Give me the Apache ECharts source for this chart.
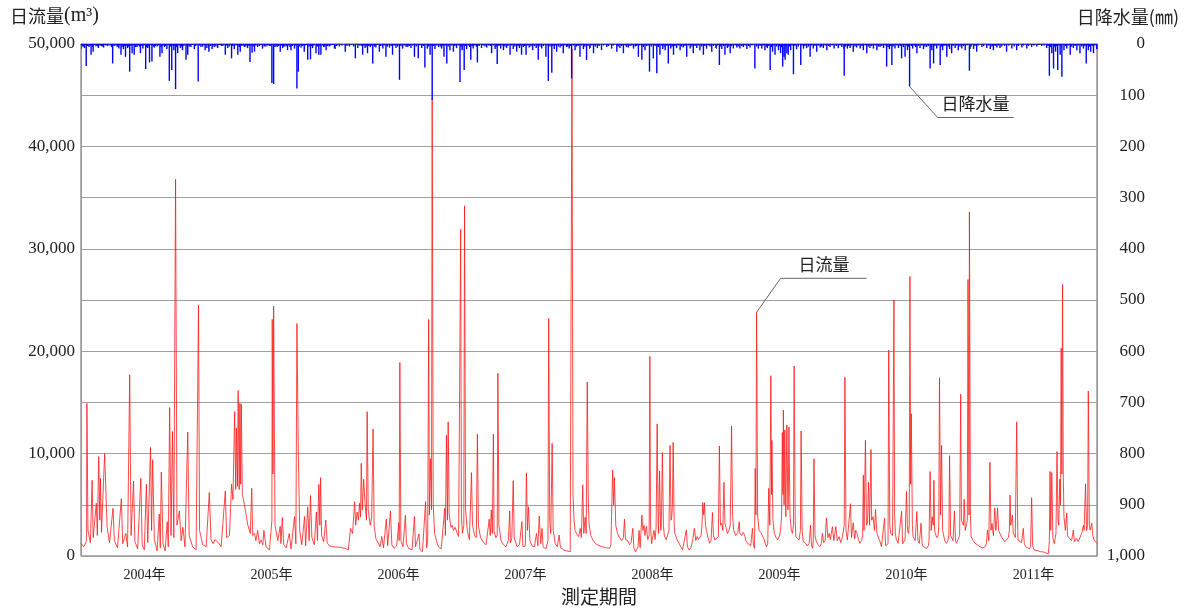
<!DOCTYPE html>
<html>
<head>
<meta charset="utf-8">
<title>日流量・日降水量</title>
<script src="https://cdn.jsdelivr.net/npm/echarts@6/dist/echarts.min.js"></script>
<style>
  html, body { margin: 0; padding: 0; background: #fff; }
  #main { width: 1189px; height: 614px; }
</style>
</head>
<body>
<div id="main"></div>
<script>
// x = days since 2004-01-01 (2922 days up to 2012-01-01)
var YEARS = ['2004年', '2005年', '2006年', '2007年', '2008年', '2009年', '2010年', '2011年'];
var DAY_MAX = 2922;

// 日流量 (m3) [day, value]
var FLOW_0405 = [[0,1240],[8,900],[16,1500],[17,14900],[20,2500],[27,1300],[32,7400],[35,1800],[44,5150],[47,2000],[51,9700],[54,3500],[56,7600],[59,2300],[68,10000],[75,2900],[82,1300],[92,4650],[96,1500],[105,800],[116,5600],[120,1200],[129,2200],[134,900],[140,17700],[144,2000],[151,7300],[155,1400],[163,700],[172,7600],[176,1100],[182,600],[188,7000],[192,1300],[200,10600],[203,2500],[206,9400],[211,1600],[219,500],[225,4100],[228,800],[231,8200],[236,1200],[242,500],[248,3350],[251,900],[255,14500],[259,2000],[263,12150],[267,1800],[272,36800],[276,3000],[283,4400],[288,1500],[293,2800],[299,900],[307,12100],[311,2000],[321,900],[331,600],[338,24500],[341,2500],[350,1100],[360,900],[369,6200],[374,1600],[380,1200],[385,1600],[395,1300],[403,900],[415,6350],[419,1800],[427,2000],[433,7000],[437,5500],[442,14100],[445,6500],[447,12500],[450,6800],[452,16150],[455,6500],[457,14900],[459,7000],[461,14850],[464,6000],[470,5000],[480,3000],[487,2200],[491,6600],[494,2000],[499,2200],[503,1500],[508,2500],[513,1200],[518,1560],[523,1100],[526,2500],[532,900],[542,600],[549,3500],[550,23100],[552,8000],[554,24400],[558,3000],[566,1500],[573,2900],[575,1200],[579,3750],[583,1100],[590,800],[599,2200],[604,700],[614,3850],[618,1200],[621,22700],[625,10200],[629,2500],[635,1100],[643,3850],[646,1000],[652,4800],[656,1500],[660,5900],[664,1800],[671,1100],[677,4300],[680,1500],[684,7000],[687,3000],[689,7650],[692,2000],[698,1400],[704,3500],[708,1300],[714,1000],[724,900],[729,900]];
var FLOW_0607 = [[731,900],[745,850],[760,750],[769,600],[775,2700],[781,2200],[787,5300],[790,3000],[794,4300],[798,3500],[801,5150],[804,3800],[806,9050],[809,4500],[813,7500],[817,5100],[821,3500],[823,14100],[826,4500],[832,3000],[836,3800],[840,12400],[843,3000],[848,1700],[856,1200],[860,900],[865,1900],[870,800],[878,3600],[882,1000],[890,4400],[894,1100],[900,750],[908,1000],[914,3250],[915,1500],[917,18900],[920,1500],[926,900],[933,4000],[936,1200],[942,750],[952,600],[959,3850],[962,900],[972,2150],[975,600],[982,420],[991,5300],[994,800],[997,1500],[1000,23100],[1002,4000],[1005,9500],[1008,4500],[1010,44700],[1013,5000],[1017,2200],[1023,1400],[1028,900],[1036,700],[1046,4650],[1048,2000],[1051,11800],[1054,3500],[1056,13100],[1059,4000],[1064,2800],[1068,3000],[1071,2500],[1076,2800],[1081,2300],[1086,1900],[1090,2000],[1092,31900],[1094,4000],[1097,2200],[1101,3000],[1103,34200],[1106,4500],[1111,2500],[1117,1600],[1123,8150],[1126,3000],[1132,2000],[1137,1800],[1140,11900],[1143,3000],[1149,1800],[1158,1300],[1165,1100],[1174,3600],[1177,2000],[1180,4500],[1183,2200],[1186,11900],[1188,2500],[1193,1800],[1197,2000],[1199,17850],[1202,3000],[1208,1500],[1215,1100],[1222,900],[1229,1500],[1233,4400],[1235,1300],[1239,1700],[1243,7350],[1246,1800],[1254,900],[1261,1100],[1268,3350],[1271,900],[1278,1000],[1281,8100],[1284,2500],[1287,4800],[1291,1500],[1297,1000],[1304,900],[1310,2200],[1314,1000],[1318,3900],[1322,1200],[1326,2700],[1329,900],[1337,700],[1343,1500],[1345,23200],[1348,3500],[1351,2200],[1355,11000],[1358,2500],[1364,1200],[1370,900],[1375,2050],[1379,800],[1388,600],[1397,500],[1407,420],[1412,49500],[1415,6000],[1418,3500],[1421,2500],[1425,2200],[1431,1900],[1436,2700],[1439,1800],[1443,6950],[1446,2200],[1450,3800],[1453,2200],[1456,17000],[1459,5500]];
var FLOW_0809 = [[1461,3200],[1466,2000],[1473,1500],[1480,1200],[1490,1000],[1499,900],[1511,800],[1520,750],[1524,1100],[1529,8400],[1532,5000],[1534,7650],[1538,3000],[1543,2200],[1547,1900],[1555,1500],[1560,1800],[1563,3600],[1566,1600],[1572,1500],[1578,1100],[1582,1300],[1587,2700],[1590,800],[1595,420],[1602,900],[1605,2500],[1608,800],[1613,4000],[1616,2500],[1619,3000],[1622,2000],[1626,2900],[1630,1600],[1634,2000],[1636,19500],[1638,3000],[1641,1200],[1645,2000],[1648,2500],[1651,1600],[1654,2800],[1657,12900],[1660,3000],[1661,2200],[1664,8300],[1667,2500],[1669,2800],[1672,10100],[1675,3000],[1678,1900],[1683,1600],[1687,1700],[1691,2500],[1694,10800],[1697,3500],[1699,3800],[1701,5000],[1703,11100],[1706,3000],[1708,2200],[1714,1600],[1720,1240],[1725,900],[1730,590],[1735,700],[1741,2550],[1744,900],[1749,590],[1754,800],[1760,1700],[1764,2700],[1768,1500],[1772,1900],[1776,1600],[1779,1700],[1783,2000],[1786,3000],[1788,5200],[1791,4000],[1793,5200],[1796,3000],[1799,2500],[1803,1800],[1808,1240],[1812,1500],[1816,4250],[1819,2000],[1823,1560],[1828,1400],[1833,1900],[1836,10750],[1839,3000],[1843,3200],[1846,2500],[1849,7200],[1852,3200],[1855,2800],[1859,2200],[1864,2540],[1867,3000],[1869,7400],[1871,12700],[1874,4000],[1877,2540],[1883,2000],[1889,2300],[1893,3350],[1895,2200],[1900,2000],[1904,2300],[1908,2100],[1912,1500],[1917,1240],[1921,1300],[1926,1000],[1931,2700],[1934,1000],[1937,750],[1939,8550],[1941,4000],[1943,23800],[1946,4000],[1950,2500],[1955,2300],[1960,2200],[1965,1600],[1971,900],[1975,1200],[1978,6600],[1981,3000],[1984,17600],[1986,6000],[1987,11300],[1990,3500],[1994,2210],[1999,1800],[2004,1560],[2009,2000],[2012,2540],[2015,4000],[2017,12050],[2019,6000],[2020,14250],[2022,5000],[2024,12300],[2027,3840],[2030,12800],[2033,4500],[2034,5000],[2036,12600],[2039,4000],[2043,2500],[2046,2210],[2049,3000],[2051,18550],[2054,3500],[2056,1890],[2060,1700],[2065,1560],[2069,2500],[2071,12200],[2074,2500],[2077,1400],[2081,1300],[2084,1240],[2089,1000],[2094,1200],[2098,3000],[2101,1000],[2104,750],[2106,1500],[2108,9500],[2111,2000],[2115,1400],[2120,1100],[2125,900],[2129,1200],[2132,2210],[2136,1300],[2140,1500],[2144,3700],[2148,1800],[2152,2210],[2155,1600],[2161,2870],[2165,1500],[2171,2870],[2175,1500],[2180,1890],[2185,1300],[2190,1890]];
var FLOW_1011 = [[2192,1700],[2195,3000],[2197,17450],[2200,2500],[2204,1560],[2208,1500],[2213,5100],[2216,1800],[2221,3250],[2225,1700],[2228,2500],[2232,2210],[2236,1600],[2240,1240],[2245,1500],[2248,2000],[2250,7900],[2252,2500],[2256,11300],[2259,3000],[2262,3200],[2265,7200],[2268,3000],[2272,10400],[2274,3500],[2278,3840],[2282,2500],[2285,4550],[2289,2200],[2293,2210],[2297,1500],[2302,910],[2307,1000],[2311,3700],[2314,1000],[2317,910],[2321,1200],[2323,20100],[2326,3000],[2329,2210],[2334,2000],[2338,25000],[2340,4000],[2342,2210],[2345,1600],[2350,1240],[2355,1300],[2360,4350],[2363,1200],[2367,1100],[2370,1600],[2374,6300],[2377,2500],[2380,2210],[2382,3000],[2384,27300],[2386,7000],[2388,13900],[2391,3000],[2393,1890],[2399,1500],[2404,4350],[2407,1500],[2411,1240],[2416,3200],[2419,1200],[2422,910],[2427,800],[2432,750],[2437,1000],[2439,1500],[2442,8250],[2445,2500],[2448,3840],[2451,3000],[2453,7400],[2455,2500],[2457,2210],[2461,1800],[2465,2000],[2467,3000],[2469,17400],[2472,4000],[2475,10800],[2478,2500],[2480,2210],[2484,1500],[2489,1240],[2493,1500],[2496,2000],[2498,9800],[2501,2000],[2504,1890],[2508,1500],[2512,4400],[2515,1500],[2518,1240],[2523,1300],[2527,2000],[2530,15800],[2532,3500],[2535,3500],[2538,3000],[2540,5550],[2543,2500],[2547,3190],[2549,3500],[2551,27000],[2554,4000],[2555,33600],[2558,4000],[2560,1890],[2566,1500],[2571,1240],[2578,1100],[2585,910],[2593,800],[2600,910],[2604,1200],[2607,2540],[2611,1500],[2614,9150],[2617,2500],[2620,3190],[2624,2000],[2628,4700],[2631,2500],[2633,3000],[2636,4700],[2639,2500],[2643,2540],[2648,1800],[2652,1720],[2657,1400],[2662,1400],[2667,1800],[2670,2500],[2672,5950],[2674,3000],[2677,3190],[2679,4000],[2681,2300],[2683,2210],[2687,1800],[2691,13100],[2694,2500],[2695,1560],[2700,1400],[2705,1300],[2710,2700],[2713,1200],[2717,910],[2721,800],[2727,700],[2731,900],[2734,5700],[2737,1000],[2741,600],[2746,700],[2753,500],[2760,420],[2767,400],[2775,300],[2782,200],[2785,1500],[2787,8250],[2789,2500],[2792,8150],[2795,1800],[2799,1200],[2804,2210],[2807,10200],[2810,3500],[2812,3000],[2815,7500],[2817,5000],[2819,20300],[2821,8000],[2823,26500],[2825,8000],[2827,3840],[2831,2500],[2835,4200],[2837,2000],[2841,1800],[2844,1890],[2849,1500],[2854,2540],[2857,1400],[2860,1300],[2863,1720],[2868,1400],[2873,1560],[2878,2200],[2883,3000],[2885,2500],[2889,7050],[2892,2500],[2895,3000],[2897,16100],[2900,3000],[2902,2540],[2905,2500],[2907,3200],[2910,2000],[2913,1600],[2917,1400],[2922,1240]];

// 日降水量 (mm) [day, value]
var RAIN_0406 = [[5,5],[10,8],[15,43],[23,6],[29,21],[35,15],[43,5],[50,8],[58,4],[65,7],[72,3],[91,38],[104,6],[109,9],[115,21],[122,10],[128,25],[134,8],[140,54],[147,18],[153,21],[161,6],[171,18],[178,9],[186,49],[192,8],[197,36],[204,34],[211,7],[219,5],[227,25],[233,18],[240,6],[247,10],[254,72],[261,51],[267,12],[272,88],[278,18],[286,8],[292,12],[302,31],[307,21],[316,6],[326,10],[337,73],[345,6],[357,12],[362,8],[368,15],[377,10],[383,6],[393,8],[403,4],[415,21],[422,8],[433,28],[441,10],[451,21],[458,15],[470,6],[479,8],[486,35],[492,17],[499,15],[508,6],[522,9],[532,5],[542,4],[549,76],[554,78],[564,6],[573,15],[580,8],[587,5],[594,12],[604,12],[614,9],[621,87],[625,54],[633,7],[642,15],[652,31],[660,30],[666,8],[676,18],[684,21],[690,21],[698,6],[705,12],[714,5],[729,9],[743,5],[760,15],[772,5],[789,28],[796,8],[810,21],[817,8],[824,18],[832,6],[839,38],[848,7],[858,15],[868,9],[877,25],[887,7],[896,21],[906,8],[916,70],[925,9],[940,6],[949,8],[959,25],[970,28]];
var RAIN_0608 = [[980,8],[989,46],[996,9],[1004,21],[1010,109],[1018,10],[1028,6],[1037,9],[1044,25],[1052,38],[1061,12],[1071,15],[1080,8],[1090,74],[1096,12],[1102,51],[1109,10],[1121,31],[1128,9],[1140,36],[1152,8],[1167,7],[1181,18],[1191,10],[1197,39],[1207,9],[1215,12],[1224,8],[1234,21],[1243,10],[1253,15],[1261,8],[1267,21],[1280,21],[1289,7],[1299,12],[1309,8],[1315,31],[1325,9],[1337,25],[1344,72],[1354,56],[1361,10],[1368,15],[1378,7],[1387,18],[1397,6],[1404,9],[1411,67],[1421,12],[1435,25],[1445,10],[1454,31],[1464,8],[1474,18],[1485,8],[1497,12],[1512,6],[1526,9],[1541,15],[1550,8],[1560,18],[1574,7],[1589,9],[1603,25],[1613,31],[1622,12],[1635,54],[1646,28],[1656,57],[1665,21],[1673,10],[1680,12],[1689,38],[1696,9],[1704,21],[1713,8],[1723,12],[1732,7],[1742,25],[1752,9],[1761,18],[1771,8],[1780,12],[1790,21],[1799,9],[1814,15],[1826,8],[1836,41],[1843,10],[1852,21],[1859,8],[1867,18],[1876,9],[1886,7],[1895,9],[1905,6],[1915,10],[1924,7],[1938,48],[1948,9]];
var RAIN_0911 = [[1958,9],[1967,12],[1974,8],[1982,51],[1989,15],[1996,21],[2006,12],[2012,18],[2018,44],[2022,25],[2025,31],[2030,18],[2034,21],[2041,12],[2049,59],[2058,10],[2070,41],[2078,9],[2087,8],[2097,25],[2106,9],[2116,15],[2126,7],[2135,8],[2145,12],[2154,6],[2166,9],[2178,8],[2188,6],[2195,62],[2204,9],[2212,8],[2221,15],[2231,7],[2241,9],[2250,12],[2260,18],[2269,8],[2279,9],[2289,12],[2298,6],[2308,8],[2317,44],[2325,10],[2332,41],[2341,9],[2351,8],[2360,28],[2370,25],[2377,12],[2383,83],[2392,9],[2404,18],[2413,8],[2423,10],[2432,6],[2442,48],[2447,12],[2452,38],[2461,9],[2471,41],[2478,12],[2490,25],[2498,10],[2504,18],[2514,8],[2523,12],[2533,9],[2543,12],[2555,52],[2567,10],[2576,15],[2591,6],[2605,8],[2615,10],[2624,12],[2634,7],[2643,8],[2662,15],[2677,9],[2691,12],[2706,7],[2720,9],[2734,6],[2749,5],[2763,4],[2777,8],[2785,62],[2792,18],[2797,48],[2803,15],[2809,51],[2816,21],[2821,64],[2827,12],[2835,9],[2845,21],[2854,8],[2864,12],[2873,18],[2883,9],[2891,38],[2897,12],[2904,15],[2912,18],[2921,10]];
// light rain days (the thin band along the top)
var RAIN_LIGHT = [[2,3],[7,5],[12,2],[19,4],[26,3],[33,6],[39,2],[47,4],[54,3],[61,5],[69,2],[77,4],[84,3],[88,6],[95,4],[99,3],[107,5],[112,2],[118,6],[125,4],[131,3],[137,5],[144,4],[150,2],[157,6],[164,3],[168,5],[175,4],[181,3],[189,6],[195,4],[201,2],[208,5],[214,4],[222,3],[230,6],[236,3],[243,4],[250,2],[258,5],[264,3],[270,4],[275,6],[282,3],[289,5],[296,4],[305,3],[311,5],[320,2],[330,4],[341,3],[350,5],[355,2],
  [372,4],[380,3],[388,5],[398,2],[408,4],[418,3],[427,5],[437,4],[446,3],[455,6],[463,4],[467,3],[474,5],[483,4],[489,3],[495,5],[503,3],[513,4],[518,2],[527,5],[537,3],[546,4],[558,6],[561,3],[568,4],[577,3],[583,5],[591,4],[598,3],[601,6],[608,4],[617,3],[628,5],[637,4],[645,3],[648,2],[656,5],[663,4],[670,3],[680,5],[687,4],[694,3],[701,5],[709,4],[718,3],[724,2],[735,4],[750,3],[765,4],[778,2],[784,5],[801,3],[806,4],[814,3],[820,5],[828,4],[835,3],[844,5],[852,2],[862,4],[872,3],[881,5],[892,4],[901,3],[911,5],[920,4],[930,3],[935,6],[944,4],[954,3],[964,5],[975,3],
  [985,4],[1000,5],[1008,3],[1014,4],[1023,3],[1033,5],[1041,4],[1048,3],[1056,5],[1066,3],[1075,4],[1085,3],[1093,5],[1099,3],[1106,4],[1114,3],[1118,6],[1125,4],[1133,3],[1137,5],[1145,4],[1157,3],[1162,5],[1172,3],[1177,4],[1186,3],[1194,5],[1202,4],[1211,3],[1219,5],[1228,4],[1238,3],[1248,5],[1257,4],[1264,3],[1272,6],[1276,4],[1284,3],[1294,5],[1304,4],[1312,3],[1320,5],[1330,4],[1341,3],[1349,5],[1357,4],[1365,3],[1373,5],[1383,4],[1392,3],[1400,5],[1408,4],[1416,3],[1425,5],[1430,4],[1440,3],[1449,5],[1458,4],[1469,3],[1479,5],[1490,4],[1503,3],[1517,4],[1531,3],[1545,5],[1555,4],[1565,3],[1569,6],[1579,4],[1584,3],[1594,5],[1598,4],[1607,3],[1617,6],[1627,4],[1631,3],[1640,5],[1651,4],[1660,6],[1669,3],[1677,5],[1685,4],[1692,3],[1700,5],[1708,4],[1718,3],[1727,5],[1737,4],[1747,3],[1757,5],[1766,4],[1775,3],[1785,5],[1794,4],[1804,3],[1809,5],[1819,4],[1831,3],[1840,5],[1848,4],[1855,3],[1863,5],[1871,4],[1881,3],[1890,5],[1900,4],[1910,3],[1920,4],[1930,3],[1943,5],
  [1953,4],[1962,3],[1971,5],[1978,4],[1986,6],[1993,3],[2001,5],[2009,4],[2015,6],[2027,4],[2037,5],[2045,3],[2053,4],[2063,5],[2074,3],[2082,4],[2092,5],[2101,3],[2111,4],[2121,3],[2130,5],[2140,3],[2150,4],[2160,3],[2172,4],[2183,3],[2199,5],[2208,4],[2216,3],[2226,5],[2236,3],[2246,4],[2255,3],[2264,5],[2274,4],[2284,3],[2293,5],[2303,4],[2313,3],[2321,6],[2329,4],[2336,5],[2346,3],[2356,4],[2365,6],[2374,3],[2380,5],[2388,4],[2397,3],[2400,6],[2408,4],[2418,3],[2427,5],[2437,4],[2445,6],[2456,4],[2466,3],[2475,5],[2482,4],[2486,3],[2494,5],[2508,4],[2518,3],[2528,5],[2538,4],[2548,3],[2560,5],[2571,4],[2581,3],[2596,4],[2610,3],[2620,5],[2629,4],[2638,3],[2648,5],[2656,4],[2668,3],[2684,5],[2696,4],[2711,3],[2725,4],[2740,3],[2756,2],[2770,3],[2781,4],[2788,6],[2800,5],[2806,4],[2813,3],[2819,5],[2831,4],[2840,3],[2849,5],[2859,4],[2868,3],[2878,5],[2887,4],[2894,3],[2901,5],[2908,4],[2916,3]];

var FONT = "'Liberation Serif', 'Noto Sans CJK JP', serif";
var FONT_JP = "'Noto Sans CJK JP', 'Liberation Serif', sans-serif";

var flowData = FLOW_0405.concat(FLOW_0607, FLOW_0809, FLOW_1011);
var rainData = RAIN_0406.concat(RAIN_0608, RAIN_0911, RAIN_LIGHT);

var chart = echarts.init(document.getElementById('main'), null, {renderer: 'canvas'});

var option = {
    animation: false,
    backgroundColor: '#fff',
    grid: {
        left: 81,
        right: 92,
        top: 44,
        bottom: 58,
        show: true,
        borderColor: '#666',
        borderWidth: 1
    },
    xAxis: [
        {
            type: 'value',
            min: 0,
            max: DAY_MAX,
            show: false
        },
        {
            type: 'category',
            data: YEARS,
            boundaryGap: true,
            position: 'bottom',
            axisLine: { lineStyle: { color: '#555', width: 1 } },
            axisTick: { show: true, length: 5, lineStyle: { color: '#555' } },
            axisLabel: { fontFamily: FONT, fontSize: 14, color: '#222', margin: 12 },
            splitLine: { show: false }
        }
    ],
    yAxis: [
        {
            type: 'value',
            min: 0,
            max: 50000,
            interval: 5000,
            position: 'left',
            axisLine: { show: true, lineStyle: { color: '#999' } },
            axisTick: { show: false },
            axisLabel: {
                fontFamily: FONT,
                fontSize: 17,
                color: '#222',
                margin: 6,
                formatter: function (v) {
                    return v % 10000 === 0 ? v.toLocaleString('en-US') : '';
                }
            },
            splitLine: { show: true, lineStyle: { color: '#a0a0a0', width: 1 } }
        },
        {
            type: 'value',
            min: 0,
            max: 1000,
            interval: 100,
            inverse: true,
            position: 'right',
            axisLine: { show: true, lineStyle: { color: '#999' } },
            axisTick: { show: false },
            axisLabel: {
                fontFamily: FONT,
                fontSize: 17,
                color: '#222',
                align: 'right',
                margin: 48,
                formatter: function (v) {
                    return v.toLocaleString('en-US');
                }
            },
            splitLine: { show: false }
        }
    ],
    series: [
        {
            name: '日流量',
            type: 'line',
            xAxisIndex: 0,
            yAxisIndex: 0,
            data: flowData,
            showSymbol: false,
            symbol: 'none',
            lineStyle: { color: '#ff1a1a', width: 0.8 },
            z: 2
        },
        {
            name: '日降水量',
            type: 'bar',
            xAxisIndex: 0,
            yAxisIndex: 1,
            data: rainData,
            barWidth: 1.4,
            barGap: '-100%',
            itemStyle: { color: '#0000ff' },
            z: 3
        }
    ]
};
chart.setOption(option);

// leader-line labels
var pFlow = chart.convertToPixel({xAxisIndex: 0, yAxisIndex: 0}, [1943, 23800]);
var pRain = chart.convertToPixel({xAxisIndex: 0, yAxisIndex: 1}, [2383, 83]);

chart.setOption({
    graphic: [
        {
            type: 'text', left: 10, top: 6,
            style: {
                text: '{j|日流量}{s|(m³)}',
                rich: {
                    j: { font: '18px ' + FONT_JP, fill: '#222' },
                    s: { font: '20px ' + FONT, fill: '#222' }
                }
            }
        },
        { type: 'text', right: 10, top: 8, style: { text: '日降水量(㎜)', font: '18px ' + FONT_JP, fill: '#222' } },
        { type: 'text', left: 561, top: 587, style: { text: '測定期間', font: '19px ' + FONT_JP, fill: '#222' } },
        {
            type: 'polyline',
            shape: { points: [[pFlow[0], pFlow[1]], [pFlow[0] + 24, pFlow[1] - 34], [pFlow[0] + 110, pFlow[1] - 34]] },
            style: { stroke: '#666', lineWidth: 1, fill: null },
            z: 10
        },
        { type: 'text', x: pFlow[0] + 42, y: pFlow[1] - 56, style: { text: '日流量', font: '17px ' + FONT_JP, fill: '#222' }, z: 10 },
        {
            type: 'polyline',
            shape: { points: [[pRain[0], pRain[1]], [pRain[0] + 28, pRain[1] + 31], [pRain[0] + 104, pRain[1] + 31]] },
            style: { stroke: '#666', lineWidth: 1, fill: null },
            z: 10
        },
        { type: 'text', x: pRain[0] + 32, y: pRain[1] + 9, style: { text: '日降水量', font: '17px ' + FONT_JP, fill: '#222' }, z: 10 }
    ]
});
</script>
</body>
</html>
